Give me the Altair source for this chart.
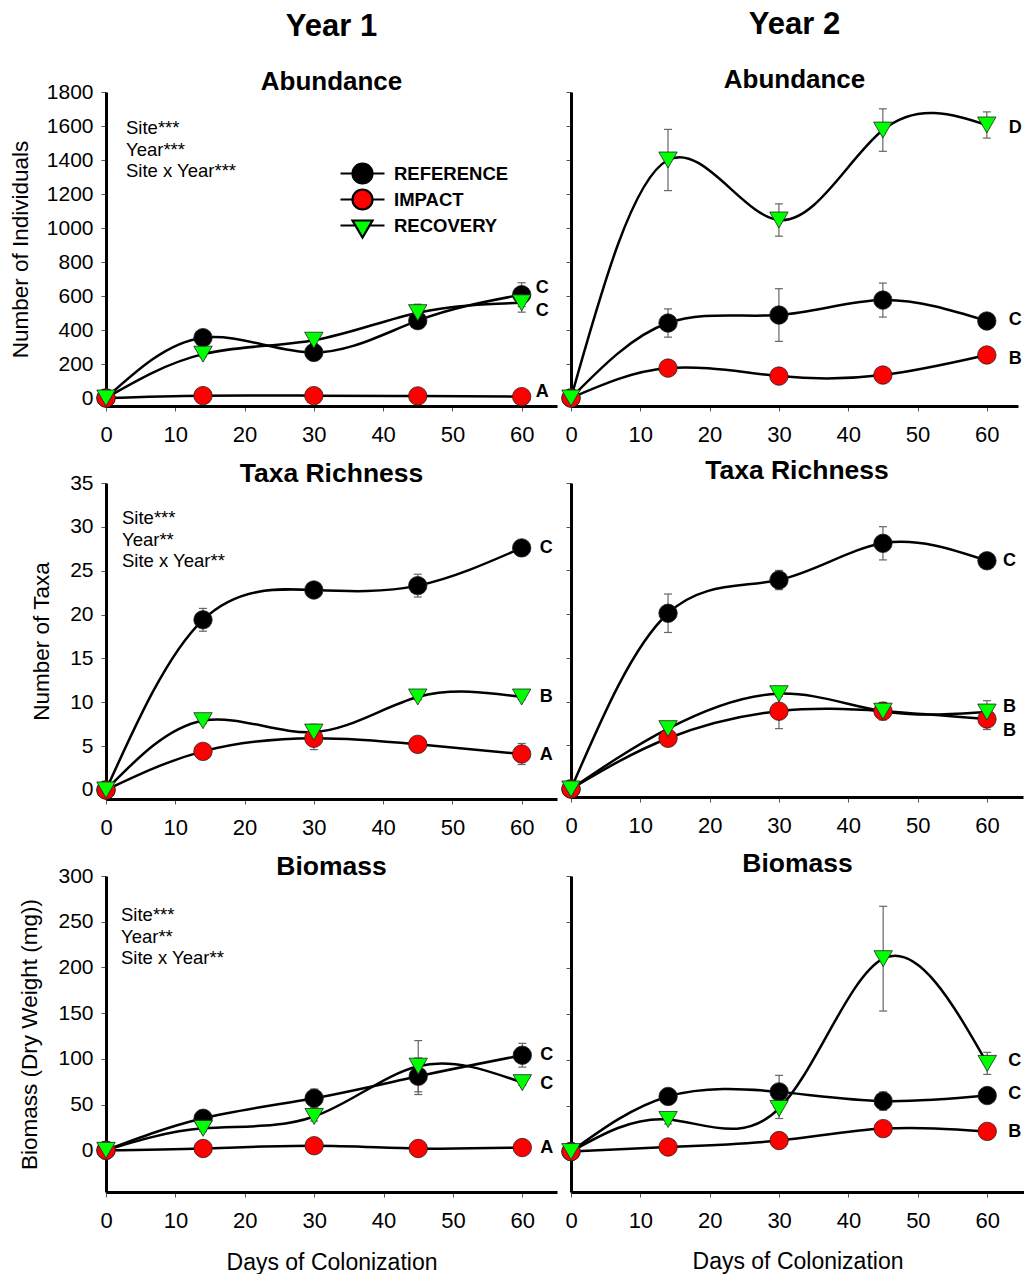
import altair as alt
import pandas as pd

FONT = "Liberation Sans, Arial, Helvetica, sans-serif"

# ---------------- data ----------------
days = [0, 14, 30, 45, 60]
x_ticks = [0, 10, 20, 30, 40, 50, 60]
sites = ["REFERENCE", "IMPACT", "RECOVERY"]
site_fill = ["#000000", "#ff0000", "#00ff00"]
site_shape = ["circle", "circle", "triangle-down"]
legend_shape = [
    "M-2.2,0H-1M1,0H2.2M1,0A1,1,0,1,1,-1,0A1,1,0,1,1,1,0Z",
    "M-2.2,0H-1M1,0H2.2M1,0A1,1,0,1,1,-1,0A1,1,0,1,1,1,0Z",
    "M-2.2,0H-0.7M0.7,0H2.2M-1,-0.5L1,-0.5L0,1.2Z",
]

abund_ticks = [0, 200, 400, 600, 800, 1000, 1200, 1400, 1600, 1800]
taxa_ticks = [0, 5, 10, 15, 20, 25, 30, 35]
biomass_ticks = [0, 50, 100, 150, 200, 250, 300]

# Year 1 - Abundance
y1_abund_ref = [0, 355, 268, 455, 608]
y1_abund_ref_se = [0, 25, 25, 30, 70]
y1_abund_imp = [0, 14, 14, 12, 8]
y1_abund_imp_se = [0, 0, 0, 0, 0]
y1_abund_rec = [0, 258, 340, 502, 560]
y1_abund_rec_se = [0, 15, 20, 50, 55]
y1_abund_letters = ["C", "A", "C"]
y1_abund_letter_y = [647, 35, 512]

# Year 2 - Abundance
y2_abund_ref = [0, 441, 488, 576, 453]
y2_abund_ref_se = [0, 83, 155, 100, 15]
y2_abund_imp = [0, 176, 129, 135, 253]
y2_abund_imp_se = [0, 0, 0, 0, 0]
y2_abund_rec = [0, 1400, 1047, 1576, 1606]
y2_abund_rec_se = [0, 180, 95, 125, 77]
y2_abund_letters = ["C", "B", "D"]
y2_abund_letter_y = [459, 229, 1588]

# Year 1 - Taxa richness
y1_taxa_ref = [0, 19.4, 22.8, 23.3, 27.6]
y1_taxa_ref_se = [0, 1.3, 0.4, 1.3, 0.4]
y1_taxa_imp = [0, 4.4, 5.9, 5.2, 4.1]
y1_taxa_imp_se = [0, 0.3, 1.3, 0.3, 1.2]
y1_taxa_rec = [0, 7.9, 6.6, 10.6, 10.6]
y1_taxa_rec_se = [0, 0.3, 0.9, 0.3, 0.3]
y1_taxa_letters = ["C", "A", "B"]
y1_taxa_letter_y = [27.6, 4.0, 10.6]

# Year 2 - Taxa richness
y2_taxa_ref = [0, 20.1, 23.9, 28.1, 26.1]
y2_taxa_ref_se = [0, 2.2, 1.1, 1.9, 0.9]
y2_taxa_imp = [0, 5.8, 8.9, 8.9, 8.0]
y2_taxa_imp_se = [0, 0.3, 2.0, 1.0, 1.2]
y2_taxa_rec = [0, 6.9, 10.9, 8.9, 8.8]
y2_taxa_rec_se = [0, 0.3, 0.3, 0.3, 1.3]
y2_taxa_letters = ["C", "B", "B"]
y2_taxa_letter_y = [26.1, 6.6, 9.4]

# Year 1 - Biomass
y1_bio_ref = [0, 35, 57, 81, 104]
y1_bio_ref_se = [0, 3, 10, 20, 13]
y1_bio_imp = [0, 2, 5, 2, 3]
y1_bio_imp_se = [0, 0, 0, 0, 0]
y1_bio_rec = [0, 24, 37, 92, 74]
y1_bio_rec_se = [0, 3, 5, 28, 3]
y1_bio_letters = ["C", "A", "C"]
y1_bio_letter_y = [104, 2, 73]

# Year 2 - Biomass
y2_bio_ref = [0, 60, 65, 55, 61]
y2_bio_ref_se = [0, 3, 18, 10, 3]
y2_bio_imp = [0, 5, 12, 25, 22]
y2_bio_imp_se = [0, 0, 0, 0, 0]
y2_bio_rec = [0, 35, 47, 210, 96]
y2_bio_rec_se = [0, 5, 11, 57, 12]
y2_bio_letters = ["C", "B", "C"]
y2_bio_letter_y = [63, 21, 99]

stats_abund = ["Site***", "Year***", "Site x Year***"]
stats_taxa = ["Site***", "Year**", "Site x Year**"]
stats_bio = ["Site***", "Year**", "Site x Year**"]


# ---------------- helpers ----------------
def site_table(means, ses):
    rows = []
    for s, m, e in zip(sites, means, ses):
        for d, v, se in zip(days, m, e):
            rows.append({"site": s, "day": d, "value": v, "se": se})
    return pd.DataFrame(rows)


def panel(means, ses, letters, letter_y, yticks, ydom, width, height, xmax, title,
          letter_dx, ytitle=None, ytitle_x=None, ylabels=True, stats=None,
          stats_xy=None, legend_xy=None, xtitle=None, xtitle_y=None):
    df = site_table(means, ses)
    err = df[df["se"] > 0].copy()
    err["lo"] = err["value"] - err["se"]
    err["hi"] = err["value"] + err["se"]
    caps = pd.concat([err.assign(value=err["lo"]), err.assign(value=err["hi"])])
    lab = pd.DataFrame({"site": sites, "day": [days[-1]] * 3,
                        "value": letter_y, "letter": letters})

    xkw = dict(values=x_ticks, title=xtitle, labelFlush=False)
    if xtitle:
        xkw.update(titleY=xtitle_y, titleBaseline="alphabetic")
    xaxis = alt.Axis(**xkw)
    ykw = dict(values=yticks, title=ytitle, labels=ylabels, format="d")
    if ytitle:
        ykw.update(titleX=ytitle_x, titleBaseline="alphabetic")
    yaxis = alt.Axis(**ykw)
    xs = alt.Scale(domain=[0, xmax], nice=False, zero=False)
    ys = alt.Scale(domain=ydom, nice=False, zero=False)
    X = alt.X("day:Q", scale=xs, axis=xaxis)
    Y = alt.Y("value:Q", scale=ys, axis=yaxis)

    layers = [
        alt.Chart(err).mark_rule(color="#666666", strokeWidth=1.2).encode(
            x=X, y=alt.Y("lo:Q", scale=ys, axis=yaxis), y2="hi:Q"),
        alt.Chart(caps).mark_tick(orient="horizontal", size=8, thickness=1.2,
                                  color="#666666", opacity=1).encode(x=X, y=Y),
        alt.Chart(df).mark_line(interpolate="natural", color="black",
                                strokeWidth=2.5).encode(x=X, y=Y, detail="site:N"),
        alt.Chart(df).mark_point(filled=True, opacity=1, size=340, stroke="#222222",
                                 strokeWidth=0.8).encode(
            x=X, y=Y,
            fill=alt.Fill("site:N", scale=alt.Scale(domain=sites, range=site_fill), legend=None),
            shape=alt.Shape("site:N", scale=alt.Scale(domain=sites, range=site_shape), legend=None)),
        alt.Chart(lab).mark_text(align="left", baseline="middle", dx=letter_dx, fontSize=18,
                                 fontWeight="bold", font=FONT, color="black").encode(
            x=X, y=Y, text="letter:N"),
    ]
    if stats:
        sdf = pd.DataFrame({"t": ["\n".join(stats)]})
        layers.append(alt.Chart(sdf).mark_text(
            align="left", baseline="alphabetic", lineBreak="\n", lineHeight=21.7,
            fontSize=18.5, font=FONT, color="black").encode(
            x=alt.value(stats_xy[0]), y=alt.value(stats_xy[1]), text="t:N"))
    if legend_xy:
        leg = alt.Legend(title=None, orient="none", legendX=legend_xy[0], legendY=legend_xy[1],
                         labelFont=FONT, labelFontSize=18.5, labelFontWeight="bold",
                         labelColor="black", labelOffset=20, rowPadding=-3, padding=0,
                         symbolSize=400, symbolStrokeWidth=2.2, labelLimit=0)
        layers.append(alt.Chart(df).transform_filter("datum.day < 0").mark_point(
            filled=False, opacity=1, stroke="black", strokeWidth=2.2, size=400).encode(
            x=X, y=Y,
            fill=alt.Fill("site:N", scale=alt.Scale(domain=sites, range=site_fill), legend=leg),
            shape=alt.Shape("site:N", scale=alt.Scale(domain=sites, range=legend_shape), legend=leg)))
    ch = alt.layer(*layers)
    if legend_xy:
        ch = ch.resolve_scale(fill="independent", shape="independent")
    return ch.properties(width=width, height=height, title=title)


def ptitle(text, subtitle=None, offset=-4):
    kw = dict(anchor="middle", frame="group", color="black", offset=offset)
    if subtitle:
        kw.update(text=text, subtitle=subtitle, font=FONT, fontSize=31, fontWeight="bold",
                  subtitleFont=FONT, subtitleFontSize=26, subtitleFontWeight="bold",
                  subtitleColor="black", subtitlePadding=26)
    else:
        kw.update(text=text, font=FONT, fontSize=26.5, fontWeight="bold")
    return alt.TitleParams(**kw)


p11 = panel([y1_abund_ref, y1_abund_imp, y1_abund_rec],
            [y1_abund_ref_se, y1_abund_imp_se, y1_abund_rec_se],
            y1_abund_letters, y1_abund_letter_y, abund_ticks, [-47, 1800], 451, 314, 65.1,
            ptitle("Year 1", "Abundance", offset=-15), 14, ytitle="Number of Individuals",
            ytitle_x=-79, stats=stats_abund, stats_xy=(20, 42), legend_xy=(245, 70))
p12 = panel([y2_abund_ref, y2_abund_imp, y2_abund_rec],
            [y2_abund_ref_se, y2_abund_imp_se, y2_abund_rec_se],
            y2_abund_letters, y2_abund_letter_y, abund_ticks, [-47, 1800], 447, 314, 64.5,
            ptitle("Year 2", "Abundance", offset=-2), 22, ylabels=False)
p21 = panel([y1_taxa_ref, y1_taxa_imp, y1_taxa_rec],
            [y1_taxa_ref_se, y1_taxa_imp_se, y1_taxa_rec_se],
            y1_taxa_letters, y1_taxa_letter_y, taxa_ticks, [-1.03, 35], 451, 316, 65.1,
            ptitle("Taxa Richness", offset=-15), 18, ytitle="Number of Taxa", ytitle_x=-58,
            stats=stats_taxa, stats_xy=(16, 41))
p22 = panel([y2_taxa_ref, y2_taxa_imp, y2_taxa_rec],
            [y2_taxa_ref_se, y2_taxa_imp_se, y2_taxa_rec_se],
            y2_taxa_letters, y2_taxa_letter_y, taxa_ticks, [-0.92, 35], 452, 314, 65.2,
            ptitle("Taxa Richness", offset=-2), 16, ylabels=False)
p31 = panel([y1_bio_ref, y1_bio_imp, y1_bio_rec],
            [y1_bio_ref_se, y1_bio_imp_se, y1_bio_rec_se],
            y1_bio_letters, y1_bio_letter_y, biomass_ticks, [-45.6, 300], 451, 316, 65.0,
            ptitle("Biomass", offset=-15), 18, ytitle="Biomass (Dry Weight (mg))", ytitle_x=-70,
            stats=stats_bio, stats_xy=(15, 45), xtitle="Days of Colonization", xtitle_y=77)
p32 = panel([y2_bio_ref, y2_bio_imp, y2_bio_rec],
            [y2_bio_ref_se, y2_bio_imp_se, y2_bio_rec_se],
            y2_bio_letters, y2_bio_letter_y, biomass_ticks, [-44, 300], 453, 316, 65.3,
            ptitle("Biomass", offset=-2), 21, ylabels=False, xtitle="Days of Colonization",
            xtitle_y=76)

chart = alt.concat(p11, p12, p21, p22, p31, p32, columns=2,
                   spacing={"row": 77, "column": 14}, bounds="flush").properties(
    padding={"left": 9, "top": 8, "right": 0, "bottom": 0}, background="white"
).configure_view(stroke=None).configure_axis(
    domainColor="black", domainWidth=3, tickColor="#555555", tickWidth=1, tickSize=5,
    grid=False, labelFont=FONT, labelColor="black", titleFont=FONT, titleColor="black",
    titleFontWeight="normal"
).configure_axisX(labelFontSize=22, labelPadding=13, titleFontSize=23
).configure_axisY(labelFontSize=21, labelPadding=8, titleFontSize=22.5)

chart.save("out.html", embed_options={"renderer": "svg", "actions": False})
